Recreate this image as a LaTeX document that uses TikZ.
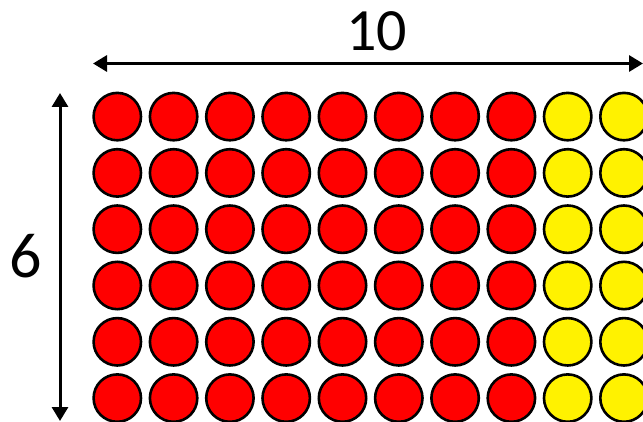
\documentclass[tikz,border=0pt]{standalone}
\usepackage{fontspec}
\setmainfont{Carlito}
\usetikzlibrary{arrows.meta}
\begin{document}
\begin{tikzpicture}[x=1pt,y=-1pt,
  dot/.style={circle,draw=black,line width=2.6pt,minimum size=47.4pt,inner sep=0pt},
  reddot/.style={dot,fill=red},
  yellowdot/.style={dot,fill=yellow},
  dimarrow/.style={line width=3pt,{Triangle[length=14pt,width=16pt]}-{Triangle[length=14pt,width=16pt]}},
  lbl/.style={font=\fontsize{60}{60}\selectfont,inner sep=0pt}]
\clip (0,0) rectangle (643,422);
\fill[white] (0,0) rectangle (643,422);
\foreach \r in {0,...,5}{
  \foreach \c in {0,...,9}{
    \pgfmathtruncatemacro{\isred}{\c<8 ? 1 : 0}
    \ifnum\isred=1
      \node[reddot] (c-\r-\c) at (117.3+56.3*\c,116.6+56.3*\r) {};
    \else
      \node[yellowdot] (c-\r-\c) at (117.3+56.3*\c,116.6+56.3*\r) {};
    \fi
  }
}
\coordinate (hl) at (93,63.5);
\coordinate (hr) at (643,63.5);
\draw[dimarrow] (hl) -- (hr);
\coordinate (vt) at (60,93);
\coordinate (vb) at (60,421);
\draw[dimarrow] (vt) -- (vb);
\node[lbl] (ten) at (376.5,31) {10};
\node[lbl,font=\fontsize{64}{64}\selectfont] (six) at (25.5,256) {6};
\end{tikzpicture}
\end{document}
